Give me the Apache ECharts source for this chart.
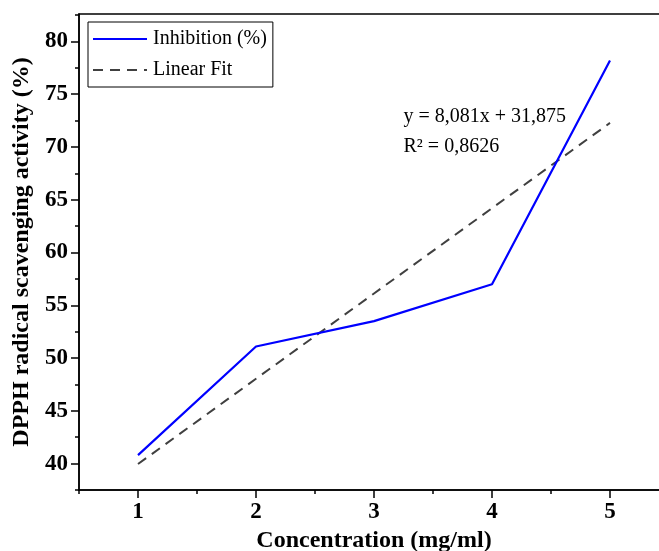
<!DOCTYPE html>
<html><head><meta charset="utf-8">
<script src="https://cdn.jsdelivr.net/npm/echarts@6/dist/echarts.min.js"></script>
<style>html,body{margin:0;padding:0;background:#fff}#c{width:659px;height:551px}</style>
</head><body><div id="c"></div>
<script>
const concentrations = [1, 2, 3, 4, 5];
const inhibition = [40.8, 51.1, 53.5, 57.0, 78.2];
const linearFit = [39.96, 48.04, 56.12, 64.20, 72.28];
const yMajorTicks = [40, 45, 50, 55, 60, 65, 70, 75, 80];
const yMinorTicks = [37.5, 42.5, 47.5, 52.5, 57.5, 62.5, 67.5, 72.5, 77.5, 82.5];
const xMajorTicks = [1, 2, 3, 4, 5];
const xMinorTicks = [0.5, 1.5, 2.5, 3.5, 4.5, 5.5];
const fitEquation = 'y = 8,081x + 31,875';
const fitR2 = 'R² = 0,8626';

const FONT = '"Liberation Serif", "Times New Roman", serif';
const chart = echarts.init(document.getElementById('c'), null, {renderer: 'canvas'});
const X0 = 0.5, X1 = 5.5, Y0 = 37.5, Y1 = 82.6;
const baseX = {type: 'value', min: X0, max: X1, gridIndex: 0, splitLine: {show: false}};
const baseY = {type: 'value', min: Y0, max: Y1, gridIndex: 0, splitLine: {show: false}};
const annLabel = {show: true, position: 'right', distance: 0, fontFamily: FONT, fontSize: 20, color: '#000'};
chart.setOption({
  animation: false,
  backgroundColor: '#fff',
  grid: {left: 79, top: 14, width: 590, height: 476, show: true, borderColor: '#000', borderWidth: 1.5,
         containLabel: false, outerBoundsMode: 'none'},
  legend: {
    left: 88, top: 22, orient: 'vertical', backgroundColor: '#fff',
    borderColor: '#000', borderWidth: 1, borderRadius: 0,
    padding: [7, 6, 7, 4], itemGap: 11, itemWidth: 54, itemHeight: 20,
    itemStyle: {opacity: 0},
    textStyle: {fontFamily: FONT, fontSize: 20, color: '#000', padding: [0, 0, 0, 1]},
    data: [{name: 'Inhibition (%)'}, {name: 'Linear Fit'}]
  },
  xAxis: [
    Object.assign({}, baseX, {
      name: 'Concentration (mg/ml)', nameLocation: 'middle', nameGap: 38,
      nameTextStyle: {fontFamily: FONT, fontSize: 24, fontWeight: 'bold', color: '#000'},
      axisLine: {show: true, onZero: false, lineStyle: {color: '#000', width: 1.5}},
      axisTick: {show: true, length: 8, lineStyle: {color: '#000', width: 1.5}, customValues: xMajorTicks},
      axisLabel: {show: true, margin: 11, fontFamily: FONT, fontSize: 23, fontWeight: 'bold', color: '#000', customValues: xMajorTicks}
    }),
    Object.assign({}, baseX, {
      position: 'bottom',
      axisLine: {show: false},
      axisTick: {show: true, length: 4, lineStyle: {color: '#000', width: 1.5}, customValues: xMinorTicks},
      axisLabel: {show: false}
    })
  ],
  yAxis: [
    Object.assign({}, baseY, {
      name: 'DPPH radical scavenging activity (%)', nameLocation: 'middle', nameGap: 45,
      nameTextStyle: {fontFamily: FONT, fontSize: 24, fontWeight: 'bold', color: '#000'},
      axisLine: {show: true, onZero: false, lineStyle: {color: '#000', width: 1.5}},
      axisTick: {show: true, length: 8, lineStyle: {color: '#000', width: 1.5}, customValues: yMajorTicks},
      axisLabel: {show: true, margin: 11, fontFamily: FONT, fontSize: 23, fontWeight: 'bold', color: '#000', customValues: yMajorTicks}
    }),
    Object.assign({}, baseY, {
      position: 'left',
      axisLine: {show: false},
      axisTick: {show: true, length: 4, lineStyle: {color: '#000', width: 1.5}, customValues: yMinorTicks},
      axisLabel: {show: false}
    })
  ],
  series: [
    {
      name: 'Inhibition (%)', type: 'line', xAxisIndex: 0, yAxisIndex: 0,
      data: concentrations.map((c, i) => [c, inhibition[i]]),
      symbol: 'none', color: '#0000ff', lineStyle: {color: '#0000ff', width: 2.2}, z: 3
    },
    {
      name: 'Linear Fit', type: 'line', xAxisIndex: 0, yAxisIndex: 0,
      data: concentrations.map((c, i) => [c, linearFit[i]]),
      symbol: 'none', color: '#000', lineStyle: {color: '#404040', width: 2, type: [10, 7]}, z: 2,
      markPoint: {
        symbol: 'rect', symbolSize: 1, silent: true, itemStyle: {color: 'rgba(0,0,0,0)'},
        data: [
          {coord: [3.246, 72.85], label: Object.assign({formatter: fitEquation}, annLabel)},
          {coord: [3.246, 70.0], label: Object.assign({formatter: fitR2}, annLabel)}
        ]
      }
    }
  ]
});
</script></body></html>
